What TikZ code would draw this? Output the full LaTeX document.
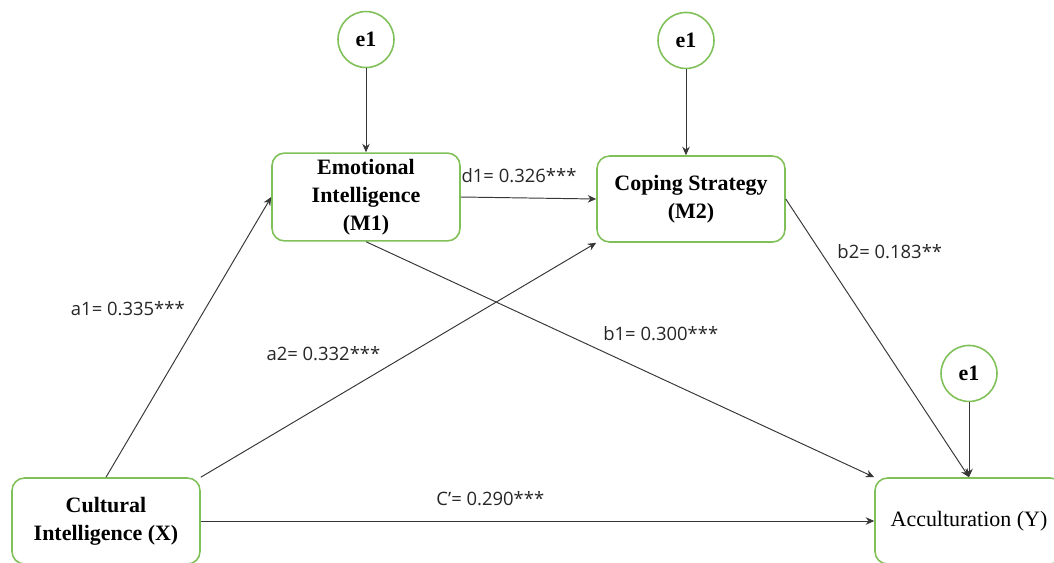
\documentclass[tikz,border=0pt]{standalone}
\usepackage{fontspec}
\setmainfont{Liberation Serif}
\newfontfamily\lblfont{Open Sans}
\usepackage{xcolor}
\usetikzlibrary{arrows.meta,positioning}

\definecolor{boxgreen}{RGB}{128,192,88}
\definecolor{linegray}{RGB}{55,55,55}

\begin{document}
\begin{tikzpicture}[x=0.02cm, y=-0.02cm, >={Stealth[length=1.7mm,width=1.5mm]},
  var/.style={draw=boxgreen, line width=0.9pt, rounded corners=0.25cm, minimum width=3.76cm, minimum height=1.72cm, align=center, font=\fontsize{12.5}{16}\selectfont\bfseries},
  err/.style={draw=boxgreen, line width=0.9pt, circle, minimum size=1.12cm, inner sep=0pt, font=\fontsize{12.5}{15}\selectfont\bfseries},
  path/.style={->, draw=linegray, line width=0.55pt},
  lbl/.style={font=\lblfont\fontsize{10.5}{12}\selectfont, text=black!85}]
\path[use as bounding box, clip] (0,0) rectangle (1054,562);

% variables
\node (M1) [var] at (366,197) {Emotional\\Intelligence\\(M1)};
\node (M2) [var] at (691,199) {Coping Strategy\\(M2)};
\node (X) [var] at (106,521) {Cultural\\Intelligence (X)};
\node (Y) [var, font=\fontsize{12.5}{16}\selectfont] at (969,521) {Acculturation (Y)};

% error terms
\node (e1a) [err, above=1.68cm of M1] {e1};
\node (e1b) [err, above=1.72cm of M2, xshift=-0.1cm] {e1};
\node (e1c) [err, above=1.5cm of Y] {e1};

\draw[path] (e1a) -- (M1);
\draw[path] (e1b) -- (e1b |- M2.north);
\draw[path] (e1c) -- (Y);

% paths
\draw[path] (X.north) -- node[lbl, pos=0.6, left=8pt] {a1= 0.335***} (M1.west);
\draw[path] (X.north east) -- node[lbl, pos=0.47, above left=0pt] {a2= 0.332***} (M2.south west);
\draw[path] (X.east) -- node[lbl, pos=0.43, above=5pt] {C’= 0.290***} (Y.west);
\draw[path] (M1.east) -- node[lbl, pos=0.43, above=5pt] {d1= 0.326***} (M2.west);
\draw[path] (M1.south) -- node[lbl, pos=0.58, above=18pt] {b1= 0.300***} (Y.north west);
\draw[path] (M2.east) -- node[lbl, pos=0.19, right=6pt] {b2= 0.183**} (Y.north);
\end{tikzpicture}
\end{document}
